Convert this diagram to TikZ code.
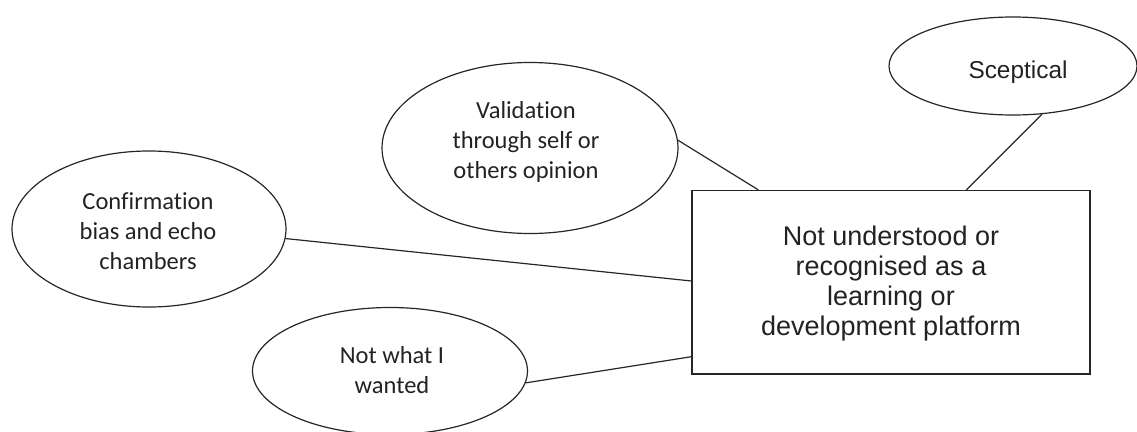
\documentclass[tikz,border=0pt]{standalone}
\usepackage{fontspec}
\setmainfont{Liberation Sans}
\newfontfamily\calibrifont[Ligatures={NoCommon,NoRare,NoContextual}]{Carlito}
\usetikzlibrary{shapes.geometric}

\definecolor{inkline}{HTML}{262626}
\definecolor{inktext}{HTML}{222222}

\tikzset{
  bubble/.style={ellipse, draw=inkline, line width=1.2pt, inner sep=0pt},
  bubbletext/.style={text=inktext, align=center, inner sep=0pt,
    font=\calibrifont\fontsize{24.5}{30}\selectfont},
  mainbox/.style={rectangle, draw=inkline, line width=1.3pt, inner sep=0pt,
    minimum width=398pt, minimum height=183.5pt},
  boxtext/.style={text=inktext, align=center, inner sep=0pt,
    font=\fontsize{27}{30}\selectfont},
  link/.style={draw=inkline, line width=1.2pt},
}

\begin{document}
\begin{tikzpicture}[x=1pt, y=-1pt]
  \useasboundingbox (0,0) rectangle (1137,431);

  % central box
  \node[mainbox] (box) at (891,282.3) {};
  \node[boxtext] (box-t) at (891,284)
    {Not understood or\\recognised as a\\learning or\\development platform};

  % surrounding ellipses
  \node[bubble, minimum width=274pt, minimum height=156pt] (conf) at (149,229) {};
  \node[bubbletext] (conf-t) at (148,231) {Confirmation\\bias and echo\\chambers};

  \node[bubble, minimum width=296pt, minimum height=171pt] (valid) at (530,148) {};
  \node[bubbletext] (valid-t) at (526,142) {Validation\\through self or\\others opinion};

  \node[bubble, minimum width=248pt, minimum height=98pt] (scep) at (1013,66) {};
  \node[text=inktext, inner sep=0pt, font=\fontsize{24.4}{28}\selectfont]
    (scep-t) at (1018,72) {Sceptical};

  \node[bubble, minimum width=275pt, minimum height=127pt] (nowant) at (390,371) {};
  \node[bubbletext] (nowant-t) at (392,370) {Not what I\\wanted};

  % connectors
  \draw[link] (conf.-4) -- ([yshift=1.3pt]box.west);
  \draw[link] (nowant.-5) -- ([yshift=18pt]box.south west);
  \draw[link] (valid.3) -- ([xshift=67pt]box.north west);
  \draw[link] (scep.-59) -- ([xshift=275pt]box.north west);
\end{tikzpicture}
\end{document}
